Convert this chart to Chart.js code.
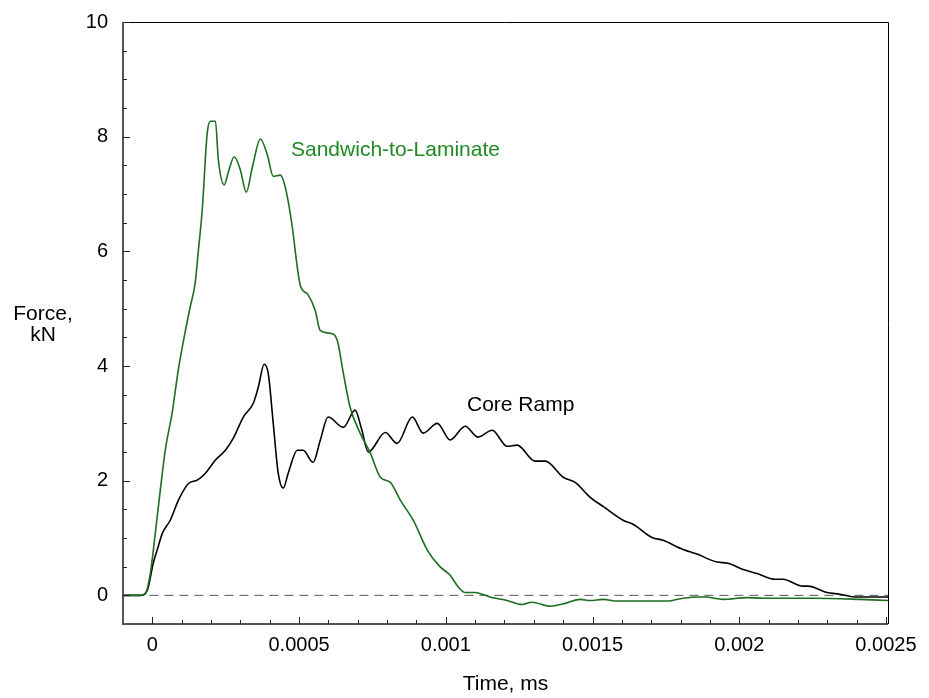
<!DOCTYPE html>
<html>
<head>
<meta charset="utf-8">
<script src="https://cdn.jsdelivr.net/npm/chart.js@4.4.1/dist/chart.umd.min.js"></script>
<style>
  body { margin: 0; background: #fff; }
</style>
</head>
<body>
<canvas id="myChart" width="929" height="698"></canvas>
<script>
// values
const sandwichTime = [-0.0001, -0.000041, -0.000024, -0.000007, 0.00001, 0.000027, 0.000044, 0.000068, 0.000089,
  0.000112, 0.000129, 0.000146, 0.000157, 0.00017, 0.000187, 0.000198, 0.000215, 0.000225, 0.000245, 0.000259,
  0.000279, 0.0003, 0.00032, 0.000341, 0.000368, 0.000392, 0.000412, 0.000436, 0.000453, 0.000477, 0.000494,
  0.000504, 0.000531, 0.000555, 0.000572, 0.000606, 0.00063, 0.000651, 0.000674, 0.000708, 0.000743, 0.000777,
  0.000811, 0.000845, 0.000889, 0.000937, 0.00098, 0.001015, 0.001042, 0.001066, 0.0011, 0.001124, 0.001151,
  0.001209, 0.00126, 0.001294, 0.001356, 0.001407, 0.001458, 0.001492, 0.001536, 0.001584, 0.001696, 0.001754,
  0.001809, 0.001866, 0.001884, 0.001945, 0.002027, 0.002081, 0.002251, 0.002411, 0.002507];
const sandwichForce = [0, 0, 0.03, 0.38, 1.08, 1.83, 2.53, 3.2, 3.95,
  4.6, 5.03, 5.45, 6.02, 6.72, 8.06, 8.27, 8.27, 7.59, 7.16, 7.38,
  7.65, 7.42, 7.03, 7.47, 7.96, 7.68, 7.31, 7.33, 7.12, 6.42, 5.72,
  5.41, 5.24, 4.97, 4.62, 4.57, 4.45, 3.87, 3.28, 2.83, 2.48, 2.06,
  1.97, 1.66, 1.31, 0.79, 0.5, 0.35, 0.15, 0.05, 0.05, 0.02, -0.03,
  -0.09, -0.16, -0.12, -0.19, -0.14, -0.07, -0.09, -0.07, -0.1, -0.1, -0.1,
  -0.05, -0.03, -0.03, -0.07, -0.04, -0.05, -0.05, -0.07, -0.09];

const coreTime = [-0.0001, -0.000041, -0.000017, 0.000003, 0.00002, 0.000034, 0.000061, 0.000089, 0.000123,
  0.000153, 0.000181, 0.000215, 0.000249, 0.000276, 0.00031, 0.000344, 0.000361, 0.000381, 0.000395, 0.000412,
  0.000429, 0.000446, 0.000463, 0.000494, 0.000514, 0.000548, 0.000572, 0.000599, 0.000651, 0.000691, 0.000713,
  0.000736, 0.000794, 0.000834, 0.000886, 0.000923, 0.000971, 0.001015, 0.001066, 0.00111, 0.001158, 0.001209,
  0.001243, 0.001305, 0.001339, 0.0014, 0.001441, 0.001492, 0.001536, 0.001604, 0.001638, 0.001703, 0.00174,
  0.001809, 0.001856, 0.001924, 0.001962, 0.002013, 0.002061, 0.002122, 0.002149, 0.002217, 0.002234, 0.002299,
  0.002343, 0.002401, 0.002456, 0.002507];
const coreForce = [0, 0, 0.09, 0.56, 0.85, 1.08, 1.31, 1.66, 1.95,
  2.01, 2.13, 2.36, 2.53, 2.74, 3.11, 3.35, 3.63, 4.03, 3.87, 3.0,
  2.13, 1.87, 2.13, 2.53, 2.53, 2.32, 2.7, 3.11, 2.93, 3.23, 2.9,
  2.5, 2.84, 2.65, 3.11, 2.83, 3.0, 2.71, 2.95, 2.76, 2.88, 2.6,
  2.62, 2.34, 2.34, 2.06, 1.97, 1.71, 1.55, 1.31, 1.24, 1.01, 0.96,
  0.8, 0.72, 0.58, 0.56, 0.45, 0.38, 0.28, 0.28, 0.16, 0.16, 0.05,
  0.02, -0.03, -0.03, -0.03];

const zeroTime = [-0.00001, 0.0026];
const zeroForce = [0, 0];

const xTicks = [0, 0.0005, 0.001, 0.0015, 0.002, 0.0025];
const yTicks = [0, 2, 4, 6, 8, 10];

const FONT = '"Liberation Sans", Arial, Helvetica, sans-serif';

function pts(xs, ys) {
  return xs.map((v, i) => ({ x: v, y: ys[i] }));
}

// frame, inward ticks and text labels
const framePlugin = {
  id: 'frame',
  afterDatasetsDraw(chart) {
    const { ctx, chartArea: a, scales: { x, y } } = chart;
    ctx.save();
    ctx.strokeStyle = '#000';
    ctx.lineWidth = 1;
    ctx.beginPath();
    ctx.moveTo(a.left, a.top + 0.5);
    ctx.lineTo(a.right + 0.5, a.top + 0.5);
    ctx.lineTo(a.right + 0.5, a.bottom);
    ctx.stroke();

    ctx.strokeStyle = '#555';
    ctx.lineWidth = 2;
    ctx.beginPath();
    ctx.moveTo(a.left, a.top);
    ctx.lineTo(a.left, a.bottom);
    ctx.lineTo(a.right, a.bottom);
    ctx.stroke();

    ctx.strokeStyle = '#222';
    ctx.lineWidth = 1;
    ctx.beginPath();
    for (let i = 0; i <= 25; i++) {
      const px = Math.round(x.getPixelForValue(i * 0.0001)) + 0.5;
      const len = i % 5 === 0 ? 7 : 4;
      ctx.moveTo(px, a.bottom);
      ctx.lineTo(px, a.bottom - len);
    }
    for (let i = 0; i <= 20; i++) {
      const py = Math.round(y.getPixelForValue(i * 0.5)) + 0.5;
      const len = i % 4 === 0 ? 7 : 4;
      ctx.moveTo(a.left, py);
      ctx.lineTo(a.left + len, py);
    }
    ctx.stroke();
    ctx.restore();
  },
  afterDraw(chart) {
    const { ctx, chartArea: a } = chart;
    ctx.save();
    ctx.font = '21px ' + FONT;
    ctx.fillStyle = '#000';
    ctx.textAlign = 'center';
    ctx.textBaseline = 'alphabetic';
    ctx.fillText('Force,', 43, 320);
    ctx.fillText('kN', 43, 341);
    ctx.fillText('Time, ms', (a.left + a.right) / 2, 690);

    ctx.textAlign = 'left';
    ctx.fillStyle = '#1f8a24';
    ctx.fillText('Sandwich-to-Laminate', 291, 156);
    ctx.fillStyle = '#000';
    ctx.fillText('Core Ramp', 467, 411);
    ctx.restore();
  }
};

const ctx = document.getElementById('myChart').getContext('2d');

var chart = new Chart(ctx, {
  type: 'line',
  data: {
    datasets: [{
      label: 'Sandwich-to-Laminate',
      data: pts(sandwichTime, sandwichForce),
      borderColor: '#1d6e1f',
      borderWidth: 1.6,
      pointRadius: 0,
      cubicInterpolationMode: 'monotone'
    }, {
      label: 'Core Ramp',
      data: pts(coreTime, coreForce),
      borderColor: '#000',
      borderWidth: 1.6,
      pointRadius: 0,
      cubicInterpolationMode: 'monotone'
    }, {
      label: 'zero',
      data: pts(zeroTime, zeroForce),
      borderColor: '#555',
      borderWidth: 1,
      borderDash: [9, 6],
      pointRadius: 0
    }]
  },
  options: {
    responsive: false,
    animation: false,
    events: [],
    layout: {
      padding: { top: 22, right: 41, left: 0, bottom: 0 }
    },
    plugins: {
      legend: { display: false },
      tooltip: { enabled: false }
    },
    scales: {
      x: {
        type: 'linear',
        min: -0.0001,
        max: 0.002507,
        grid: { display: false, drawTicks: false },
        border: { display: false },
        afterBuildTicks: s => { s.ticks = xTicks.map(v => ({ value: v })); },
        afterFit: s => {
          s.height = 74;
          s.paddingLeft = 0; s.paddingRight = 0;
        },
        ticks: {
          padding: 9,
          color: '#000',
          font: { family: FONT, size: 20 },
          maxRotation: 0,
          callback: v => String(v)
        }
      },
      y: {
        min: -0.5,
        max: 10,
        grid: { display: false, drawTicks: false },
        border: { display: false },
        afterBuildTicks: s => { s.ticks = yTicks.map(v => ({ value: v })); },
        afterFit: s => {
          s.width = 123;
          s.paddingTop = 0; s.paddingBottom = 0;
        },
        ticks: {
          padding: 15,
          color: '#000',
          font: { family: FONT, size: 20 },
          callback: v => String(v)
        }
      }
    }
  },
  plugins: [framePlugin]
});
</script>
</body>
</html>
